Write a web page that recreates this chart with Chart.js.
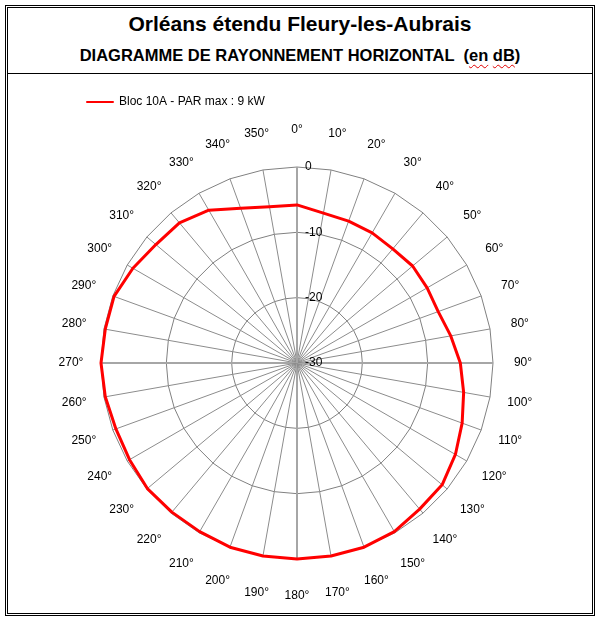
<!DOCTYPE html>
<html>
<head>
<meta charset="utf-8">
<script src="https://cdn.jsdelivr.net/npm/chart.js@4.4.1/dist/chart.umd.min.js"></script>
<style>
  html, body { margin: 0; padding: 0; background: #fff; }
  body { position: relative; width: 602px; height: 623px; overflow: hidden; font-family: "Liberation Sans", Arial, sans-serif; }
  #frame { position: absolute; left: 5px; top: 5px; width: 584px; height: 605px; border: 3px double #000; }
  .title { position: absolute; left: 8px; width: 584px; text-align: center; font-weight: bold; color: #000; white-space: pre; }
  #t1 { top: 12px; font-size: 21px; line-height: 24px; }
  #t2 { top: 45px; font-size: 16.5px; line-height: 20px; }
  .sp { text-decoration: underline wavy #e00000; text-decoration-thickness: 1px; text-underline-offset: 3px; }
  #sep { position: absolute; left: 8px; top: 73px; width: 584px; height: 1px; background: #000; }
  #wrap { position: absolute; left: 8px; top: 74px; width: 584px; height: 539px; }
</style>
</head>
<body>
<div id="frame"></div>
<div class="title" id="t1">Orléans étendu Fleury-les-Aubrais</div>
<div class="title" id="t2">DIAGRAMME DE RAYONNEMENT HORIZONTAL  (<span class="sp">en</span> <span class="sp">dB</span>)</div>
<div id="sep"></div>
<div id="wrap"><canvas id="chartRay"></canvas></div>
<script>
// directions, every 10 degrees clockwise from north
const angleLabels = ['0°', '10°', '20°', '30°', '40°', '50°', '60°', '70°', '80°',
  '90°', '100°', '110°', '120°', '130°', '140°', '150°', '160°', '170°',
  '180°', '190°', '200°', '210°', '220°', '230°', '240°', '250°', '260°',
  '270°', '280°', '290°', '300°', '310°', '320°', '330°', '340°', '350°'];

// attenuation in dB
const blocLevels = [-5.8, -6.7, -6.9, -7.0, -7.2, -6.9, -7.0, -7.0, -6.1,
  -5.0, -4.1, -3.1, -2.0, -1.0, -0.8, -0.2, 0, 0,
  0, 0, 0, -0.2, -0.2, -0.1, -0.4, -0.5, -0.2,
  0, -0.2, -0.2, -1.0, -1.8, -2.0, -3.0, -4.8, -5.7];

const dbTicks = [0, -10, -20, -30];

Chart.defaults.font.family = '"Liberation Sans", Arial, sans-serif';
Chart.defaults.font.size = 12;
Chart.defaults.color = '#000';

// angle and dB labels drawn next to the grid, like the original sheet
const polarLabels = {
  id: 'polarLabels',
  afterDraw(chart) {
    const r = chart.scales.r;
    const ctx = chart.ctx;
    ctx.save();
    ctx.fillStyle = '#000';
    ctx.font = '12px "Liberation Sans", Arial, sans-serif';
    ctx.textAlign = 'center';
    ctx.textBaseline = 'middle';
    angleLabels.forEach((txt, i) => {
      const s = Math.sin(r.getIndexAngle(i));
      const p = r.getPointPosition(i, r.drawingArea + 37 - 7 * s * s);
      ctx.fillText(txt, p.x, p.y);
    });
    ctx.textAlign = 'left';
    dbTicks.forEach(v => {
      ctx.fillText(String(v), r.xCenter + 8, r.yCenter - r.getDistanceFromCenterForValue(v));
    });
    ctx.restore();
  }
};

const ctxRay = document.getElementById('chartRay').getContext('2d');
const chartRay = new Chart(ctxRay, {
    type: 'radar',
    data: {
        labels: angleLabels,
        datasets: [{
            label: 'Bloc 10A - PAR max : 9 kW',
            data: blocLevels,
            borderColor: '#ff0000',
            backgroundColor: '#ff0000',
            borderWidth: 3,
            borderJoinStyle: 'round',
            fill: false,
            tension: 0,
            pointRadius: 0,
            pointHoverRadius: 0,
            clip: false
        }]
    },
    options: {
        responsive: true,
        maintainAspectRatio: false,
        animation: false,
        layout: {
            padding: { left: 69, right: 75, top: 12, bottom: 5 }
        },
        plugins: {
            legend: {
                display: true,
                position: 'top',
                align: 'start',
                labels: {
                    boxWidth: 26,
                    boxHeight: 0,
                    padding: 10,
                    color: '#000',
                    font: { size: 12 },
                    generateLabels: (chart) => {
                        const items = Chart.defaults.plugins.legend.labels.generateLabels(chart);
                        items.forEach(it => { it.lineWidth = 2; });
                        return items;
                    }
                }
            },
            tooltip: { enabled: false }
        },
        scales: {
            r: {
                min: -30,
                max: 0,
                // native tick text stays hidden; its backdrop padding keeps room round the grid
                ticks: {
                    stepSize: 10,
                    display: true,
                    color: 'rgba(0,0,0,0)',
                    showLabelBackdrop: false,
                    backdropPadding: 18
                },
                pointLabels: { display: false },
                grid: { color: '#808080', lineWidth: 1 },
                angleLines: {
                    color: (c) => c.index % 9 === 0 ? '#a6a6a6' : '#8c8c8c',
                    lineWidth: (c) => c.index % 9 === 0 ? 2 : 1
                }
            }
        }
    },
    plugins: [polarLabels]
});
</script>
</body>
</html>
